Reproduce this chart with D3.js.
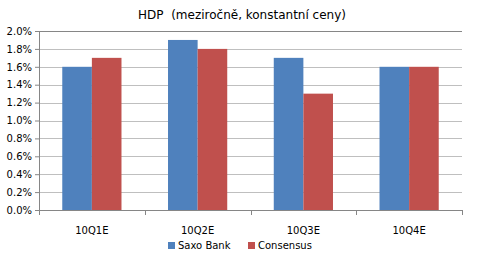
<!DOCTYPE html>
<html>
<head>
<meta charset="utf-8">
<script src="https://cdn.jsdelivr.net/npm/d3@7"></script>
<style>
body { margin: 0; background: #fff; }
text { font-family: "DejaVu Sans", sans-serif; fill: #000; }
</style>
</head>
<body>
<div id="chart"></div>
<script>
// data
var categories = ["10Q1E", "10Q2E", "10Q3E", "10Q4E"];
var seriesNames = ["Saxo Bank", "Consensus"];
var saxoValues = [1.6, 1.9, 1.7, 1.6];
var consensusValues = [1.7, 1.8, 1.3, 1.6];
var yTicks = [0, 0.2, 0.4, 0.6, 0.8, 1.0, 1.2, 1.4, 1.6, 1.8, 2.0];
var colors = ["#4f81bd", "#c0504d"];

var svgWidth = 479, svgHeight = 262;
var margin = { top: 31, right: 17, bottom: 52, left: 39 };
var width = svgWidth - margin.left - margin.right;
var height = svgHeight - margin.top - margin.bottom;

var svg = d3.select("#chart").append("svg")
  .attr("width", svgWidth)
  .attr("height", svgHeight);

svg.append("text")
  .attr("x", 242)
  .attr("y", 19)
  .attr("text-anchor", "middle")
  .style("font-size", "12px")
  .style("white-space", "pre")
  .text("HDP  (meziročně, konstantní ceny)");

var g = svg.append("g")
  .attr("transform", `translate(${margin.left}, ${margin.top})`);

var x = d3.scaleBand().domain(categories).range([0, width]).paddingInner(0.44).paddingOuter(0.22);
var x1 = d3.scaleBand().domain(seriesNames).range([0, x.bandwidth()]);
var y = d3.scaleLinear().domain([0, 2.0]).range([height, 0]);

// gridlines
g.selectAll(".grid").data(yTicks.slice(1)).enter().append("line")
  .attr("x1", 0).attr("x2", width)
  .attr("y1", d => Math.round(y(d)) + 0.5).attr("y2", d => Math.round(y(d)) + 0.5)
  .attr("stroke", d => d === 2.0 ? "#868686" : "#bfbfbf");

var data = categories.map((c, i) => ({ cat: c, vals: [saxoValues[i], consensusValues[i]] }));

var groups = g.selectAll(".cat").data(data).enter().append("g")
  .attr("transform", d => `translate(${x(d.cat)},0)`);

groups.selectAll("rect").data(d => d.vals.map((v, j) => ({ name: seriesNames[j], v: v, j: j })))
  .enter().append("rect")
  .attr("x", d => x1(d.name))
  .attr("y", d => y(d.v))
  .attr("width", x1.bandwidth())
  .attr("height", d => height - y(d.v))
  .attr("fill", d => colors[d.j]);

// y axis
var leftAxis = d3.axisLeft(y).tickValues(yTicks).tickSize(4).tickSizeOuter(0)
  .tickFormat(d => d.toFixed(1) + "%");
var ya = g.append("g").call(leftAxis);
ya.select(".domain").attr("stroke", "#868686");
ya.selectAll(".tick line").attr("stroke", "#868686");
ya.selectAll(".tick text").style("font-size", "10px").attr("x", -7);

// x axis
var xa = g.append("g").attr("transform", `translate(0,${height})`);
xa.append("line").attr("x1", 0).attr("x2", width).attr("y1", 0.5).attr("y2", 0.5).attr("stroke", "#868686");
var bounds = d3.range(categories.length + 1).map(i => i * width / categories.length);
xa.selectAll(".tk").data(bounds).enter().append("line")
  .attr("x1", d => Math.round(d) + 0.5).attr("x2", d => Math.round(d) + 0.5)
  .attr("y1", 0).attr("y2", 5).attr("stroke", "#868686");
xa.selectAll(".lbl").data(categories).enter().append("text")
  .attr("x", d => x(d) + x.bandwidth() / 2)
  .attr("y", 24)
  .attr("text-anchor", "middle")
  .style("font-size", "10px")
  .text(d => d);

// legend
var legend = svg.append("g").attr("transform", "translate(168,245)");
var lx = [0, 80];
seriesNames.forEach(function(n, i) {
  legend.append("rect").attr("x", lx[i]).attr("y", -3).attr("width", 7).attr("height", 7).attr("fill", colors[i]);
  legend.append("text").attr("x", lx[i] + 10).attr("y", 4).style("font-size", "10px").text(n);
});
</script>
</body>
</html>
